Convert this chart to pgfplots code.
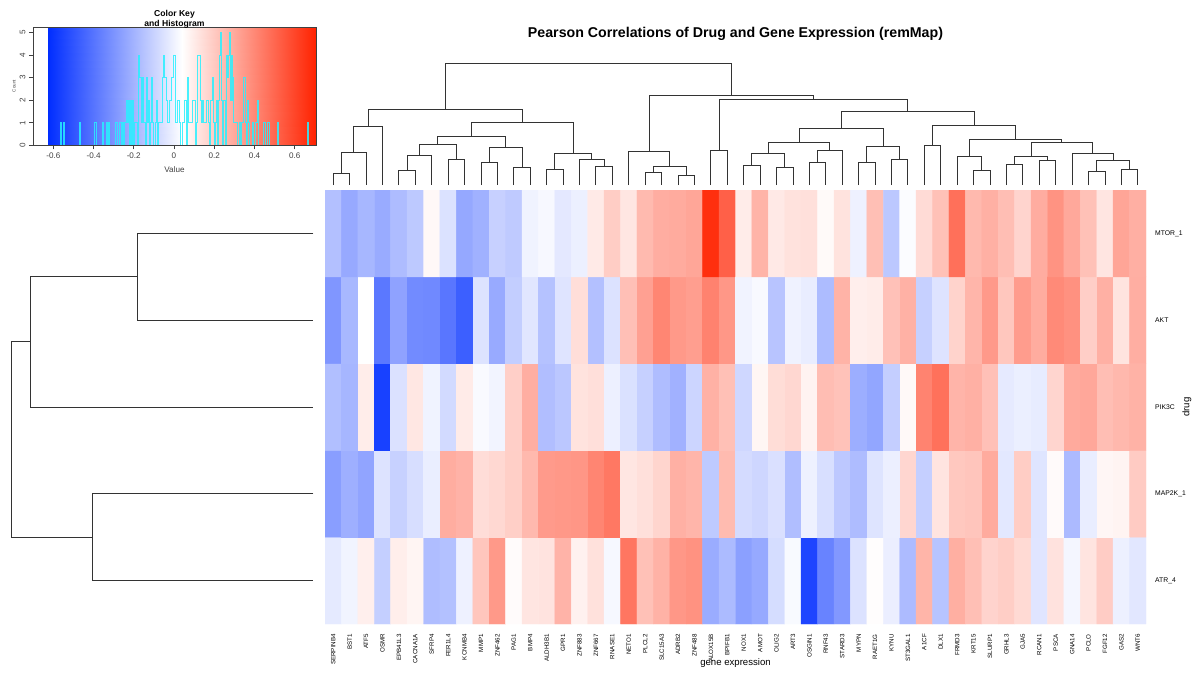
\documentclass[border=0pt]{standalone}
\usepackage{fontspec}
\setmainfont{Liberation Sans}
\usepackage{pgfplots}
\pgfplotsset{compat=1.18}
\usepackage{pgfplotstable}
\usepgfplotslibrary{statistics}
\definecolor{histcyan}{RGB}{40,240,255}
\pgfplotsset{colormap={bwr}{rgb255=(0,45,255) rgb255=(255,255,255) rgb255=(255,34,0)}}

\pgfplotstableread[row sep=\\]{
x y v\\
1 1 -0.027\\ 2 1 0.004\\ 3 1 0.088\\ 4 1 -0.113\\ 5 1 0.093\\ 6 1 0.071\\ 7 1 -0.168\\ 8 1 -0.157\\ 9 1 -0.003\\ 10 1 0.212\\
11 1 0.347\\ 12 1 0.052\\ 13 1 0.118\\ 14 1 0.124\\ 15 1 0.268\\ 16 1 0.083\\ 17 1 0.131\\ 18 1 0.017\\ 19 1 0.452\\ 20 1 0.227\\
21 1 0.273\\ 22 1 0.354\\ 23 1 0.368\\ 24 1 -0.222\\ 25 1 -0.176\\ 26 1 -0.262\\ 27 1 -0.233\\ 28 1 -0.068\\ 29 1 0.023\\ 30 1 -0.548\\
31 1 -0.353\\ 32 1 -0.287\\ 33 1 -0.052\\ 34 1 0.046\\ 35 1 -0.012\\ 36 1 -0.174\\ 37 1 0.264\\ 38 1 -0.148\\ 39 1 0.282\\ 40 1 0.234\\
41 1 0.172\\ 42 1 0.188\\ 43 1 0.153\\ 44 1 -0.041\\ 45 1 0.127\\ 46 1 0.011\\ 47 1 0.121\\ 48 1 0.193\\ 49 1 -0.007\\ 50 1 -0.036\\
1 2 -0.268\\ 2 2 -0.213\\ 3 2 -0.247\\ 4 2 -0.048\\ 5 2 -0.106\\ 6 2 -0.063\\ 7 2 -0.014\\ 8 2 0.288\\ 9 2 0.271\\ 10 2 0.142\\
11 2 0.157\\ 12 2 0.186\\ 13 2 0.252\\ 14 2 0.343\\ 15 2 0.351\\ 16 2 0.356\\ 17 2 0.408\\ 18 2 0.447\\ 19 2 0.116\\ 20 2 0.134\\
21 2 0.168\\ 22 2 0.277\\ 23 2 0.262\\ 24 2 -0.128\\ 25 2 0.246\\ 26 2 -0.073\\ 27 2 -0.088\\ 28 2 -0.057\\ 29 2 -0.166\\ 30 2 -0.004\\
31 2 -0.061\\ 32 2 -0.133\\ 33 2 -0.171\\ 34 2 -0.046\\ 35 2 -0.009\\ 36 2 0.163\\ 37 2 -0.112\\ 38 2 0.122\\ 39 2 0.207\\ 40 2 0.214\\
41 2 0.293\\ 42 2 -0.032\\ 43 2 0.191\\ 44 2 -0.043\\ 45 2 0.054\\ 46 2 -0.177\\ 47 2 -0.016\\ 48 2 0.067\\ 49 2 0.074\\ 50 2 0.196\\
1 3 -0.162\\ 2 3 -0.192\\ 3 3 0.096\\ 4 3 -0.562\\ 5 3 -0.054\\ 6 3 0.113\\ 7 3 0.001\\ 8 3 -0.078\\ 9 3 0.101\\ 10 3 0.026\\
11 3 0.007\\ 12 3 0.184\\ 13 3 0.284\\ 14 3 -0.164\\ 15 3 -0.136\\ 16 3 0.126\\ 17 3 0.137\\ 18 3 -0.006\\ 19 3 -0.055\\ 20 3 -0.108\\
21 3 -0.169\\ 22 3 -0.206\\ 23 3 -0.093\\ 24 3 0.276\\ 25 3 0.231\\ 26 3 -0.086\\ 27 3 0.068\\ 28 3 0.144\\ 29 3 0.161\\ 30 3 0.077\\
31 3 0.238\\ 32 3 0.224\\ 33 3 -0.217\\ 34 3 -0.243\\ 35 3 -0.114\\ 36 3 0.058\\ 37 3 0.413\\ 38 3 0.468\\ 39 3 0.266\\ 40 3 0.279\\
41 3 0.229\\ 42 3 -0.026\\ 43 3 -0.011\\ 44 3 -0.021\\ 45 3 0.166\\ 46 3 0.297\\ 47 3 0.304\\ 48 3 0.236\\ 49 3 0.254\\ 50 3 0.272\\
1 4 -0.292\\ 2 4 -0.186\\ 3 4 0.041\\ 4 4 -0.387\\ 5 4 -0.253\\ 6 4 -0.327\\ 7 4 -0.334\\ 8 4 -0.394\\ 9 4 -0.468\\ 10 4 -0.049\\
11 4 -0.228\\ 12 4 -0.116\\ 13 4 -0.038\\ 14 4 -0.153\\ 15 4 -0.044\\ 16 4 0.139\\ 17 4 -0.158\\ 18 4 -0.051\\ 19 4 0.232\\ 20 4 0.326\\
21 4 0.406\\ 22 4 0.348\\ 23 4 0.333\\ 24 4 0.416\\ 25 4 0.353\\ 26 4 0.003\\ 27 4 0.021\\ 28 4 -0.146\\ 29 4 -0.002\\ 30 4 -0.018\\
31 4 -0.173\\ 32 4 0.269\\ 33 4 0.091\\ 34 4 0.097\\ 35 4 0.226\\ 36 4 0.274\\ 37 4 -0.109\\ 38 4 -0.047\\ 39 4 0.174\\ 40 4 0.263\\
41 4 0.346\\ 42 4 0.209\\ 43 4 0.338\\ 44 4 0.291\\ 45 4 0.392\\ 46 4 0.372\\ 47 4 0.187\\ 48 4 0.277\\ 49 4 0.123\\ 50 4 0.284\\
1 5 -0.159\\ 2 5 -0.231\\ 3 5 -0.189\\ 4 5 -0.226\\ 5 5 -0.172\\ 6 5 -0.131\\ 7 5 0.062\\ 8 5 -0.053\\ 9 5 -0.236\\ 10 5 -0.208\\
11 5 -0.107\\ 12 5 -0.127\\ 13 5 0.002\\ 14 5 0.019\\ 15 5 -0.031\\ 16 5 -0.008\\ 17 5 0.103\\ 18 5 0.192\\ 19 5 0.117\\ 20 5 0.248\\
21 5 0.286\\ 22 5 0.294\\ 23 5 0.308\\ 24 5 0.668\\ 25 5 0.518\\ 26 5 0.098\\ 27 5 0.267\\ 28 5 0.106\\ 29 5 0.128\\ 30 5 0.133\\
31 5 0.056\\ 32 5 0.126\\ 33 5 -0.004\\ 34 5 0.233\\ 35 5 -0.134\\ 36 5 0.031\\ 37 5 0.148\\ 38 5 0.228\\ 39 5 0.472\\ 40 5 0.251\\
41 5 0.278\\ 42 5 0.235\\ 43 5 0.169\\ 44 5 0.289\\ 45 5 0.366\\ 46 5 0.301\\ 47 5 0.227\\ 48 5 0.119\\ 49 5 0.312\\ 50 5 0.281\\
}\heatdata

\begin{document}
\begin{tikzpicture}
\path[use as bounding box] (0pt,0pt) rectangle (1194pt,-672pt);
\coordinate (hm) at (325pt,-624pt);
\coordinate (cd) at (325pt,-185pt);
\coordinate (rd) at (11pt,-624pt);
\coordinate (ck) at (33pt,-145.3pt);

% ---------------- heatmap ----------------
\begin{axis}[at={(hm)}, anchor=south west, scale only axis,
  width=821pt, height=434pt,
  xmin=0.5, xmax=50.5, ymin=0.5, ymax=5.5, enlargelimits=false,
  colormap name=bwr, point meta min=-0.625, point meta max=0.705,
  axis line style={draw=none}, major tick length=0pt, tick style={draw=none},
  xtick={1,...,50},
  xticklabels={SERPINB4,BST1,ATF5,OSMR,EPB41L3,CACNA1A,SFRP4,FER1L4,KCNMB4,MMP1,ZNF462,PAG1,BMP4,ALDH3B1,GPR1,ZNF883,ZNF667,RNASE1,NETO1,PLCL2,SLC15A3,ADRB2,ZNF488,ALOX15B,BPIFB1,NOX1,AMOT,OLIG2,ART3,OSGIN1,RNF43,STARD3,MYPN,RAET1G,KYNU,ST3GAL1,A1CF,DLX1,FRMD3,KRT15,SLURP1,GRHL3,GJA5,RCAN1,PSCA,GNA14,PCLO,FGF12,GAS2,WNT6},
  xticklabel style={rotate=90, anchor=east, inner sep=0pt, font=\fontsize{6.2}{7}\selectfont},
  xticklabel shift=10pt,
  ytick={1,...,5},
  yticklabels={ATR\_4,MAP2K\_1,PIK3C,AKT,MTOR\_1},
  yticklabel pos=right,
  yticklabel style={anchor=west, inner sep=0pt, font=\fontsize{6.8}{8}\selectfont},
  yticklabel shift=9pt,
  xlabel={gene expression},
  xlabel style={at={(axis description cs:0.5,-0.0899)}, anchor=center, font=\fontsize{9.6}{11}\selectfont},
  ylabel={drug},
  ylabel style={at={(axis description cs:1.0499,0.5)}, anchor=center, font=\fontsize{9.6}{11}\selectfont},
  every axis title shift=0pt,
  title={Pearson Correlations of Drug and Gene Expression (remMap)},
  title style={at={(axis description cs:0.5,1.3433)}, anchor=south, inner sep=0pt, font=\fontsize{14.2}{16}\selectfont\bfseries},
]
\addplot[matrix plot*, mesh/cols=50, point meta=explicit] table[x=x, y=y, meta=v] {\heatdata};
\end{axis}

% ---------------- column dendrogram ----------------
\begin{axis}[at={(cd)}, anchor=south west, scale only axis,
  width=821pt, height=122pt, xmin=0.5, xmax=50.5, ymin=0, ymax=122,
  hide axis, clip=false]
\addplot[black!80, line width=0.9pt, unbounded coords=jump] coordinates {
(1,0) (1,11.7) (2,11.7) (2,0) (0,nan)
(1.5,11.7) (1.5,32.7) (3,32.7) (3,0) (0,nan)
(2.25,32.7) (2.25,58.7) (4,58.7) (4,0) (0,nan)
(5,0) (5,14.3) (6,14.3) (6,0) (0,nan)
(5.5,14.3) (5.5,29.3) (7,29.3) (7,0) (0,nan)
(8,0) (8,26) (9,26) (9,0) (0,nan)
(6.25,29.3) (6.25,40.7) (8.5,40.7) (8.5,26) (0,nan)
(10,0) (10,22.3) (11,22.3) (11,0) (0,nan)
(12,0) (12,18) (13,18) (13,0) (0,nan)
(10.5,22.3) (10.5,37.7) (12.5,37.7) (12.5,18) (0,nan)
(7.375,40.7) (7.375,48.3) (11.5,48.3) (11.5,37.7) (0,nan)
(14,0) (14,15.7) (15,15.7) (15,0) (0,nan)
(17,0) (17,18.3) (18,18.3) (18,0) (0,nan)
(16,0) (16,26) (17.5,26) (17.5,18.3) (0,nan)
(14.5,15.7) (14.5,31.3) (16.75,31.3) (16.75,26) (0,nan)
(9.4375,48.3) (9.4375,62.3) (15.625,62.3) (15.625,31.3) (0,nan)
(3.125,58.7) (3.125,76) (12.53125,76) (12.53125,62.3) (0,nan)
(20,0) (20,12.3) (21,12.3) (21,0) (0,nan)
(22,0) (22,9.3) (23,9.3) (23,0) (0,nan)
(20.5,12.3) (20.5,18.3) (22.5,18.3) (22.5,9.3) (0,nan)
(19,0) (19,33.7) (21.5,33.7) (21.5,18.3) (0,nan)
(24,0) (24,34.7) (25,34.7) (25,0) (0,nan)
(26,0) (26,19.7) (27,19.7) (27,0) (0,nan)
(28,0) (28,17.7) (29,17.7) (29,0) (0,nan)
(26.5,19.7) (26.5,31.3) (28.5,31.3) (28.5,17.7) (0,nan)
(30,0) (30,22.7) (31,22.7) (31,0) (0,nan)
(30.5,22.7) (30.5,34.7) (32,34.7) (32,0) (0,nan)
(27.5,31.3) (27.5,42.3) (31.25,42.3) (31.25,34.7) (0,nan)
(33,0) (33,22.3) (34,22.3) (34,0) (0,nan)
(35,0) (35,25.7) (36,25.7) (36,0) (0,nan)
(33.5,22.3) (33.5,39) (35.5,39) (35.5,25.7) (0,nan)
(29.375,42.3) (29.375,56.3) (34.5,56.3) (34.5,39) (0,nan)
(37,0) (37,39.3) (38,39.3) (38,0) (0,nan)
(40,0) (40,14.7) (41,14.7) (41,0) (0,nan)
(39,0) (39,29) (40.5,29) (40.5,14.7) (0,nan)
(42,0) (42,20.7) (43,20.7) (43,0) (0,nan)
(44,0) (44,24.7) (45,24.7) (45,0) (0,nan)
(42.5,20.7) (42.5,29) (44.5,29) (44.5,24.7) (0,nan)
(47,0) (47,13.7) (48,13.7) (48,0) (0,nan)
(49,0) (49,15.7) (50,15.7) (50,0) (0,nan)
(47.5,13.7) (47.5,24.7) (49.5,24.7) (49.5,15.7) (0,nan)
(46,0) (46,31.7) (48.5,31.7) (48.5,24.7) (0,nan)
(43.5,29) (43.5,42.7) (47.25,42.7) (47.25,31.7) (0,nan)
(39.75,29) (39.75,45.7) (45.375,45.7) (45.375,42.7) (0,nan)
(37.5,39.3) (37.5,59.7) (42.5625,59.7) (42.5625,45.7) (0,nan)
(31.9375,56.3) (31.9375,74) (40.03125,74) (40.03125,59.7) (0,nan)
(24.5,34.7) (24.5,85.7) (35.984375,85.7) (35.984375,74) (0,nan)
(20.25,33.7) (20.25,89.3) (30.2421875,89.3) (30.2421875,85.7) (0,nan)
(7.828125,76) (7.828125,121.7) (25.24609375,121.7) (25.24609375,89.3)
};
\end{axis}

% ---------------- row dendrogram ----------------
\begin{axis}[at={(rd)}, anchor=south west, scale only axis,
  width=302.3pt, height=434pt, xmin=0, xmax=302.3, x dir=reverse,
  ymin=0.5, ymax=5.5, hide axis, clip=false]
\addplot[black!80, line width=0.9pt, unbounded coords=jump] coordinates {
(0,5) (175.6,5) (175.6,4) (0,4) (nan,0)
(175.6,4.5) (283,4.5) (283,3) (0,3) (nan,0)
(0,2) (221.3,2) (221.3,1) (0,1) (nan,0)
(283,3.75) (302.3,3.75) (302.3,1.5) (221.3,1.5)
};
\end{axis}

% ---------------- colour key ----------------
\begin{axis}[at={(ck)}, anchor=south west, scale only axis,
  width=283pt, height=118.3pt,
  xmin=-0.701, xmax=0.706, ymin=0, ymax=5.25,
  colormap name=bwr, point meta min=-0.625, point meta max=0.705,
  axis on top, axis line style={black!75, line width=0.8pt},
  tick style={black!75, line width=0.6pt},
  tick align=outside, major tick length=4pt,
  xtick pos=lower, ytick pos=left,
  xtick={-0.6,-0.4,-0.2,0,0.2,0.4,0.6},
  xticklabels={-0.6,-0.4,-0.2,0,0.2,0.4,0.6},
  ytick={0,1,2,3,4,5},
  yticklabels={0,1,2,3,4,5},
  ticklabel style={font=\fontsize{8.1}{9}\selectfont, text=black!75},
  yticklabel style={rotate=90, anchor=south},
  xlabel={Value},
  xlabel style={at={(axis description cs:0.5,-0.209)}, anchor=center, font=\fontsize{8.1}{9}\selectfont, text=black!75},
  ylabel={Count},
  ylabel style={at={(axis description cs:-0.067,0.5)}, anchor=center, font=\fontsize{4.5}{5}\selectfont, text=black!75},
  every axis title shift=0pt,
  title={Color Key\\and Histogram},
  title style={at={(axis description cs:0.5,0.99)}, anchor=south, inner sep=0pt, align=center, font=\fontsize{8.6}{9.8}\selectfont\bfseries},
]
\addplot[surf, shader=interp, mesh/cols=3, point meta=x] coordinates {
(-0.625,0) (0.04,0) (0.705,0)
(-0.625,5.25) (0.04,5.25) (0.705,5.25)
};
\addplot[histcyan, draw opacity=0.85, line width=0.6pt, hist={bins=300, data min=-0.625, data max=0.705, handler/.style={const plot}}] table[y=v] {\heatdata};
\end{axis}
\end{tikzpicture}
\end{document}
